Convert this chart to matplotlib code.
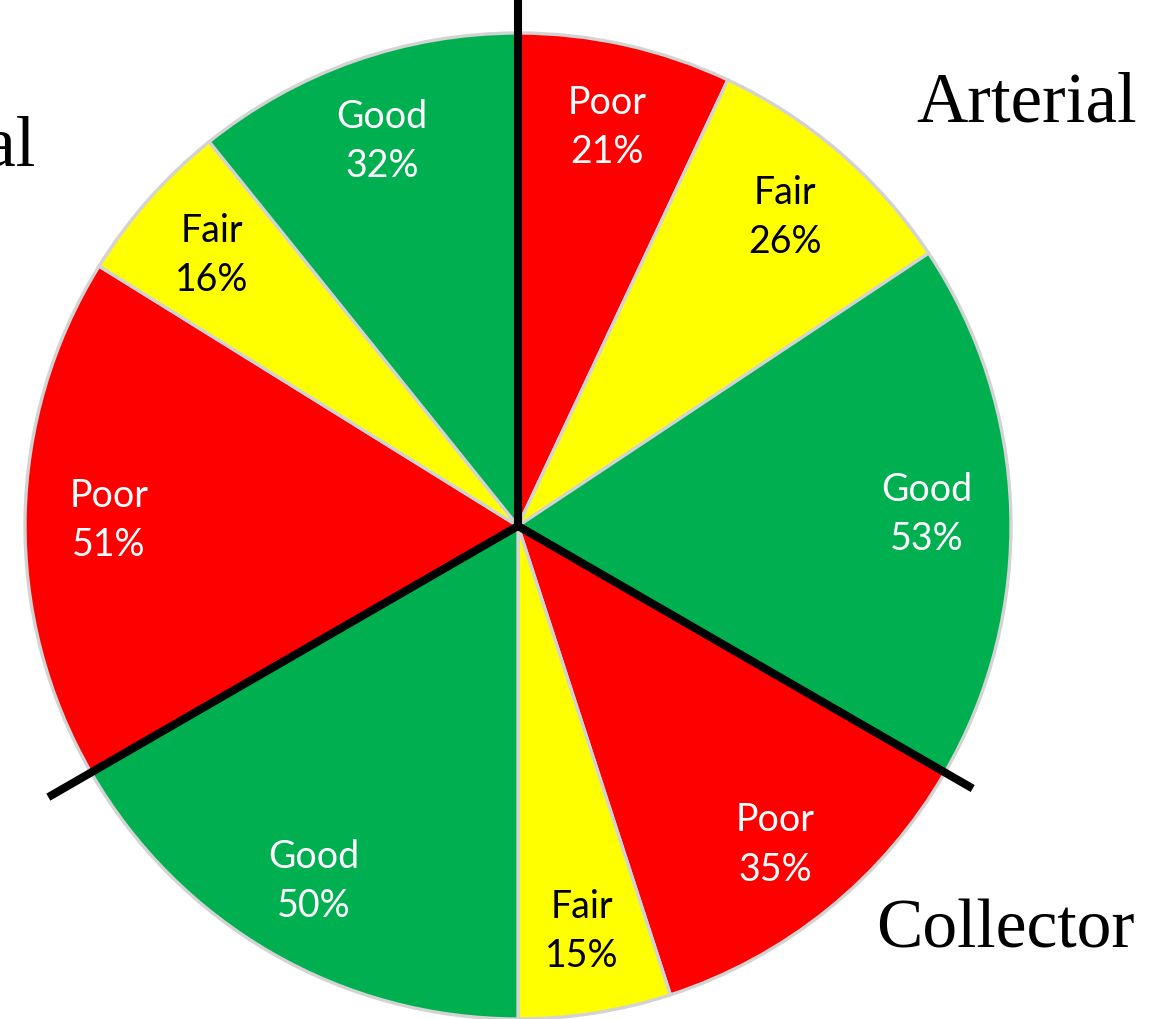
import numpy as np
import matplotlib
matplotlib.use("Agg")
import matplotlib.pyplot as plt

groups = ["Arterial", "Collector", "Local"]
categories = ["Poor", "Fair", "Good"]
arterial = [21, 26, 53]
collector = [35, 15, 50]
local = [51, 16, 32]

colors = {"Poor": "#FF0000", "Fair": "#FFFF00", "Good": "#00B050"}
text_colors = {"Poor": "white", "Fair": "black", "Good": "white"}

W, H = 1164, 1020
fig = plt.figure(figsize=(W / 100, H / 100), dpi=100)
cx, cy, R = 518, 1020 - 527, 493
ax = fig.add_axes([(cx - R) / W, (cy - R) / H, 2 * R / W, 2 * R / H])

# wedge sizes: each group fills one third of the circle
sizes, cols, labels, tcols = [], [], [], []
for vals in (arterial, collector, local):
    tot = sum(vals)
    for c, v in zip(categories, vals):
        sizes.append(v / tot * 120.0)
        cols.append(colors[c])
        labels.append(f"{c}\n{v}%")
        tcols.append(text_colors[c])

wedges, _ = ax.pie(sizes, colors=cols, startangle=90, counterclock=False,
                   radius=1.0, center=(0, 0), frame=True,
                   wedgeprops=dict(edgecolor="#D3D3D3", linewidth=2.4))
ax.set_xlim(-1, 1)
ax.set_ylim(-1, 1)
ax.set_aspect("equal")
ax.axis("off")

for w, lab, tc in zip(wedges, labels, tcols):
    mid = np.deg2rad((w.theta1 + w.theta2) / 2)
    r = 0.83
    ax.text(r * np.cos(mid), r * np.sin(mid), lab, ha="center", va="center",
            color=tc, fontsize=27, family="Lato", linespacing=1.45)

# group separators
for ang, ln in ((90, 1.08), (-30, 1.065), (210, 1.10)):
    a = np.deg2rad(ang)
    ax.plot([0, ln * np.cos(a)], [0, ln * np.sin(a)], color="black",
            lw=5.8, solid_capstyle="butt", clip_on=False, zorder=5)

serif = "Liberation Serif"
fig.text(1027 / W, 1 - 122 / H, groups[0], ha="center", va="baseline",
         fontsize=51, family=serif)
fig.text(1005 / W, 1 - 948 / H, groups[1], ha="center", va="baseline",
         fontsize=50, family=serif)
fig.text(35 / W, 1 - 165 / H, groups[2], ha="right", va="baseline",
         fontsize=51, family=serif)

fig.savefig("out.png", dpi=100)
